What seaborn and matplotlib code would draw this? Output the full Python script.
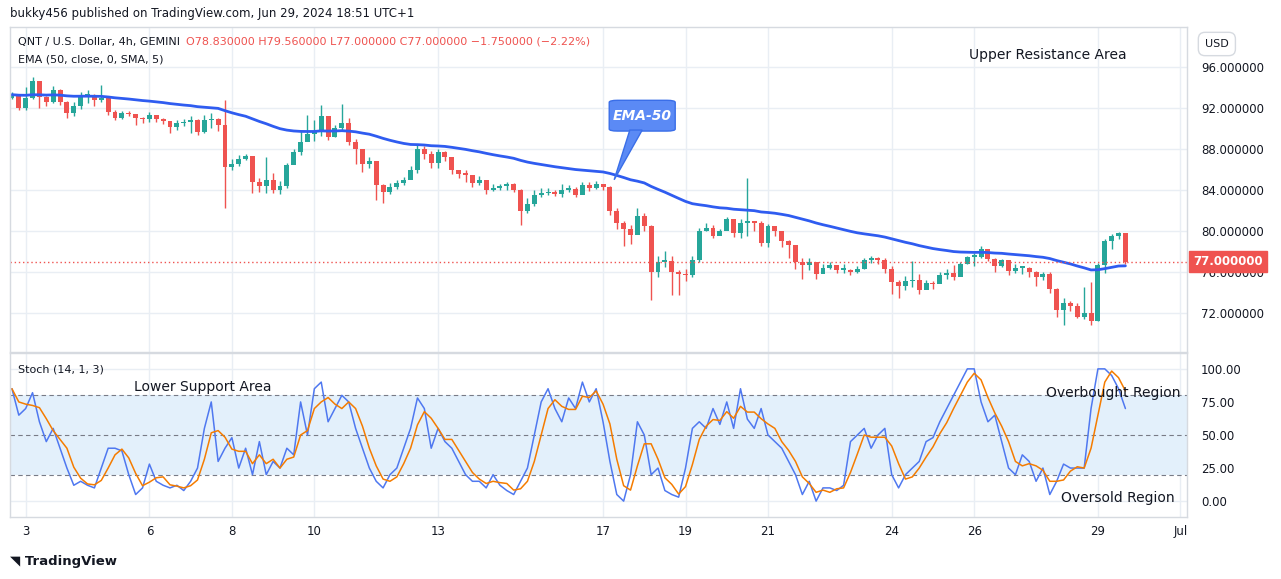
import matplotlib
matplotlib.use("Agg")
import matplotlib.pyplot as plt
import seaborn as sns
import numpy as np
import pandas as pd
from matplotlib.patches import FancyBboxPatch, Polygon

# --- DATA (4h candles, first candle Jun 2 16:00) ---
FIRST_OPEN = 93.0
CLOSES = [
    93.3, 92.0,
    93.0, 94.6, 93.1, 92.6, 93.8, 92.6,
    91.5, 92.2, 93.2, 93.3, 92.8, 93.0,
    91.6, 91.0, 91.5, 91.4, 91.0, 90.9,
    91.3, 90.9, 90.7, 90.1, 90.5, 90.6,
    90.8, 89.7, 90.8, 90.9, 90.3, 86.2,
    86.5, 87.0, 87.3, 84.8, 84.4, 85.0,
    84.0, 84.4, 86.4, 87.7, 88.7, 89.5,
    89.8, 91.2, 89.2, 90.0, 90.5, 88.7,
    88.0, 86.5, 86.8, 84.5, 83.8, 84.3,
    84.7, 85.0, 86.0, 88.0, 87.5, 86.6,
    87.7, 87.2, 86.0, 85.6, 85.5, 84.7,
    85.0, 84.0, 84.2, 84.4, 84.6, 84.0,
    82.0, 82.6, 83.5, 83.7, 83.8, 83.6,
    84.0, 84.1, 83.5, 84.5, 84.2, 84.6,
    84.3, 82.0, 80.8, 80.2, 79.6, 81.5,
    80.5, 76.0, 77.0, 77.1, 76.0, 75.8,
    75.7, 77.2, 80.0, 80.3, 79.5, 80.0,
    81.2, 79.8, 80.8, 81.0, 80.8, 78.8,
    80.5, 80.0, 79.0, 78.6, 77.0, 76.7,
    77.0, 75.8, 76.4, 76.7, 76.2, 76.2,
    76.0, 76.3, 77.2, 77.4, 77.2, 76.3,
    75.0, 74.6, 75.1, 75.2, 74.2, 74.9,
    74.8, 75.7, 75.9, 75.5, 76.8, 77.5,
    77.5, 78.2, 77.3, 76.6, 77.2, 76.1,
    76.4, 76.4, 76.0, 75.5, 75.8, 74.3,
    72.3, 73.0, 72.7, 71.6, 72.0, 71.2,
    76.7, 79.0, 79.5, 79.8, 77.0,
]
HIGHS = [
    93.6, 93.4,
    94.0, 95.0, 94.0, 93.2, 94.1, 93.9,
    92.7, 92.6, 93.6, 93.8, 93.4, 94.2,
    93.1, 91.8, 91.7, 91.7, 91.3, 91.1,
    91.6, 91.2, 91.0, 90.6, 90.8, 90.9,
    91.2, 90.9, 91.3, 91.5, 91.0, 92.8,
    87.0, 87.4, 87.5, 87.3, 85.2, 87.2,
    85.7, 84.9, 86.6, 88.0, 89.8, 91.3,
    90.8, 92.3, 91.0, 90.3, 92.4, 91.0,
    89.0, 87.6, 87.2, 86.3, 84.6, 84.7,
    85.0, 85.3, 86.3, 88.4, 88.3, 87.8,
    88.0, 87.8, 86.7, 86.0, 86.0, 85.2,
    85.4, 84.7, 84.6, 84.6, 84.8, 84.7,
    84.1, 83.2, 84.0, 84.2, 84.2, 84.0,
    84.6, 84.5, 84.3, 84.8, 84.8, 84.9,
    84.5, 84.4, 82.2, 81.0, 80.6, 82.2,
    81.8, 80.6, 77.6, 78.1, 77.6, 76.2,
    76.3, 77.6, 80.3, 80.8, 80.6, 80.2,
    81.4, 81.2, 81.2, 85.2, 81.0, 81.0,
    80.7, 80.3, 79.9, 79.1, 77.8, 77.4,
    77.4, 77.0, 76.8, 77.0, 76.6, 76.8,
    76.3, 76.6, 77.4, 77.6, 77.5, 77.4,
    76.6, 75.2, 75.6, 77.1, 75.8, 75.2,
    75.1, 76.0, 76.3, 76.7, 77.0, 77.6,
    77.9, 78.5, 77.8, 77.4, 77.3, 77.1,
    76.8, 76.6, 76.5, 76.1, 76.0, 76.0,
    74.4, 73.5, 73.2, 73.0, 74.5, 75.0,
    76.9, 79.2, 79.7, 79.9, 79.6,
]
LOWS = [
    92.9, 91.8,
    91.8, 92.9, 92.0, 92.2, 92.5, 92.3,
    91.0, 91.2, 91.9, 92.5, 92.2, 92.6,
    91.3, 90.8, 90.9, 91.2, 90.3, 90.5,
    90.6, 90.6, 90.4, 89.6, 89.9, 90.2,
    89.6, 89.4, 89.6, 90.0, 89.8, 82.2,
    86.0, 86.3, 86.9, 83.7, 83.8, 83.7,
    83.7, 83.6, 84.2, 87.0, 87.4, 89.0,
    88.8, 89.3, 88.9, 89.2, 89.8, 88.4,
    86.5, 85.8, 86.1, 83.0, 82.7, 83.6,
    84.1, 84.5, 85.3, 85.7, 87.0, 86.1,
    86.1, 86.8, 85.6, 85.2, 84.8, 84.3,
    84.5, 83.6, 83.9, 84.0, 84.0, 83.8,
    80.6, 81.8, 82.4, 83.3, 83.5, 83.4,
    83.3, 83.8, 83.3, 83.6, 83.9, 84.1,
    84.0, 81.6, 80.2, 78.5, 78.7, 79.8,
    80.0, 73.3, 75.5, 76.5, 73.8, 73.8,
    75.1, 75.5, 77.0, 80.0, 79.3, 79.6,
    80.2, 79.4, 79.3, 79.5, 80.0, 78.5,
    78.4, 79.5, 78.4, 77.4, 76.3, 75.3,
    76.2, 75.3, 75.9, 76.3, 75.9, 75.9,
    75.7, 75.9, 76.3, 76.9, 76.8, 75.9,
    73.9, 73.5, 74.2, 74.5, 73.9, 74.4,
    74.3, 75.0, 75.3, 75.2, 76.3, 76.8,
    76.6, 77.4, 77.1, 76.0, 76.5, 75.7,
    75.9, 75.8, 75.5, 74.6, 75.2, 74.0,
    71.6, 70.8, 72.2, 71.5, 71.4, 70.8,
    71.2, 75.9, 78.2, 79.2, 76.8,
]
STOCH_K = [
    85, 65,
    70, 82, 60, 45, 55, 40,
    25, 12, 15, 12, 10, 25,
    40, 40, 38, 20, 5, 10,
    28, 15, 12, 10, 12, 8,
    15, 25, 55, 75, 30, 40,
    48, 25, 40, 20, 45, 20,
    30, 25, 40, 35, 75, 50,
    85, 90, 60, 70, 80, 75,
    55, 40, 25, 15, 10, 20,
    25, 40, 55, 78, 70, 40,
    55, 45, 40, 30, 20, 15,
    15, 10, 20, 12, 8, 5,
    15, 25, 50, 75, 85, 70,
    60, 78, 70, 90, 75, 85,
    60, 30, 5, 0, 20, 60,
    50, 20, 25, 8, 5, 3,
    25, 55, 60, 55, 70, 58,
    75, 55, 85, 62, 55, 70,
    50, 45, 40, 30, 20, 5,
    15, 0, 10, 10, 8, 12,
    45, 50, 55, 40, 50, 55,
    20, 10, 20, 25, 30, 45,
    48, 60, 70, 80, 90, 100,
    100, 75, 60, 65, 45, 25,
    20, 35, 30, 15, 25, 5,
    15, 28, 25, 25, 25, 70,
    100, 100, 95, 85, 70,
]
DAY_TICKS = [3, 6, 8, 10, 13, 17, 19, 21, 24, 26, 29, 31]
DAY_LABELS = ["3", "6", "8", "10", "13", "17", "19", "21", "24", "26", "29", "Jul"]
PRICE_TICKS = [72, 76, 80, 84, 88, 92, 96]
STOCH_TICKS = [0, 25, 50, 75, 100]
LAST_PRICE = 77.0

GREEN, RED, ORANGE = "#26a69a", "#ef5350", "#f57c00"
GRID = "#e9eef4"
TXT = "#131722"

START_DAY = 2 + 16 / 24
df = pd.DataFrame({"close": CLOSES, "high": HIGHS, "low": LOWS, "k": STOCH_K})
df["open"] = [FIRST_OPEN] + CLOSES[:-1]
df["t"] = START_DAY + np.arange(len(df)) / 6
df["ema"] = df["close"].ewm(span=50, adjust=False).mean()
df["d"] = df["k"].rolling(3, min_periods=1).mean()

sns.set_theme(style="white", rc={"font.family": "DejaVu Sans"})
fig = plt.figure(figsize=(12.81, 5.79), dpi=100)
L, W = 10 / 1281, 1177 / 1281
ax = fig.add_axes([L, 1 - 352 / 579, W, 325 / 579])
ax2 = fig.add_axes([L, 1 - 517 / 579, W, 164 / 579], sharex=ax)

# --- price panel ---
up = df["close"] >= df["open"]
for mask, col in [(up, GREEN), (~up, RED)]:
    s = df[mask]
    ax.vlines(s["t"], s["low"], s["high"], color=col, lw=1)
    ax.bar(s["t"], (s["close"] - s["open"]).abs().clip(lower=0.15),
           bottom=np.minimum(s["open"], s["close"]), width=0.12, color=col, lw=0)
sns.lineplot(data=df, x="t", y="ema", ax=ax, color="#2f5cf0", lw=2)
ax.axhline(LAST_PRICE, color=RED, ls=(0, (1, 2)), lw=1)
ax.set_ylim(68.2, 99.9)
ax.set_xlim(2.62, 31.16)

# --- stoch panel ---
ax2.axhspan(20, 80, color="#e3f0fb", lw=0)
for lvl in (80, 50, 20):
    ax2.axhline(lvl, color="#787b86", ls=(0, (4, 3)), lw=0.8)
sns.lineplot(data=df, x="t", y="k", ax=ax2, color="#4f78f0", lw=1.1)
sns.lineplot(data=df, x="t", y="d", ax=ax2, color=ORANGE, lw=1.1)
ax2.set_ylim(-12, 112)

for a, ticks, fmt in [(ax, PRICE_TICKS, "{:.6f}"), (ax2, STOCH_TICKS, "{:.2f}")]:
    a.set_xlabel("")
    a.set_ylabel("")
    a.yaxis.tick_right()
    a.set_yticks(ticks)
    a.set_yticklabels([fmt.format(v) for v in ticks], fontsize=8.5, color=TXT)
    a.set_xticks(DAY_TICKS)
    a.grid(True, color=GRID, lw=1)
    a.tick_params(length=0, pad=10)
    for sp in a.spines.values():
        sp.set_color("#d6dae0")
        sp.set_linewidth(1)
ax.tick_params(labelbottom=False)
ax2.set_xticklabels(DAY_LABELS, fontsize=8.5, color=TXT)
ax2.tick_params(axis="x", pad=6)

# price label
ax.text(1.005, (LAST_PRICE - 68.2) / 31.7, "77.000000", transform=ax.transAxes,
        fontsize=8.5, color="white", fontweight="bold", va="center", ha="left",
        bbox=dict(boxstyle="square,pad=0.35", fc=RED, ec=RED))

# annotations
ax.text(0.815, 0.9, "Upper Resistance Area", transform=ax.transAxes, fontsize=10, color=TXT)
box = FancyBboxPatch((17.2, 89.8), 1.5, 2.9, boxstyle="round,pad=0.05,rounding_size=0.2",
                     fc="#5b8af5", ec="#3a6ee8", lw=1, zorder=5)
ax.add_patch(box)
ax.add_patch(Polygon([[17.65, 89.85], [17.95, 89.85], [17.27, 85.0]], closed=True,
                     fc="#5b8af5", ec="#3a6ee8", lw=1, zorder=5))
ax.text(17.95, 91.25, "EMA-50", fontsize=10, color="white", style="italic",
        fontweight="bold", ha="center", va="center", zorder=6)
ax2.text(0.105, 0.77, "Lower Support Area", transform=ax2.transAxes, fontsize=10, color=TXT)
ax2.text(0.88, 0.73, "Overbought Region", transform=ax2.transAxes, fontsize=10, color=TXT)
ax2.text(0.893, 0.09, "Oversold Region", transform=ax2.transAxes, fontsize=10, color=TXT)

# header / legends
fig.text(10 / 1281, 1 - 13 / 579, "bukky456 published on TradingView.com, Jun 29, 2024 18:51 UTC+1",
         fontsize=8.5, color=TXT, va="center")
fig.text(18 / 1281, 1 - 42 / 579, "QNT / U.S. Dollar, 4h, GEMINI", fontsize=8, color=TXT, va="center")
fig.text(186 / 1281, 1 - 42 / 579, "O78.830000 H79.560000 L77.000000 C77.000000 \u22121.750000 (\u22122.22%)",
         fontsize=8, color=RED, va="center")
fig.text(18 / 1281, 1 - 59 / 579, "EMA (50, close, 0, SMA, 5)", fontsize=8, color=TXT, va="center")
fig.text(18 / 1281, 1 - 369 / 579, "Stoch (14, 1, 3)", fontsize=8, color=TXT, va="center")
fig.text(1205 / 1281, 1 - 44 / 579, "USD", fontsize=8, color=TXT, va="center",
         bbox=dict(boxstyle="round,pad=0.6", fc="white", ec="#d6dae0"))
fig.text(10 / 1281, 1 - 561 / 579, "\u25e5 TradingView", fontsize=9.5, color=TXT, va="center",
         fontweight="bold")

fig.savefig("out.png", dpi=100)
